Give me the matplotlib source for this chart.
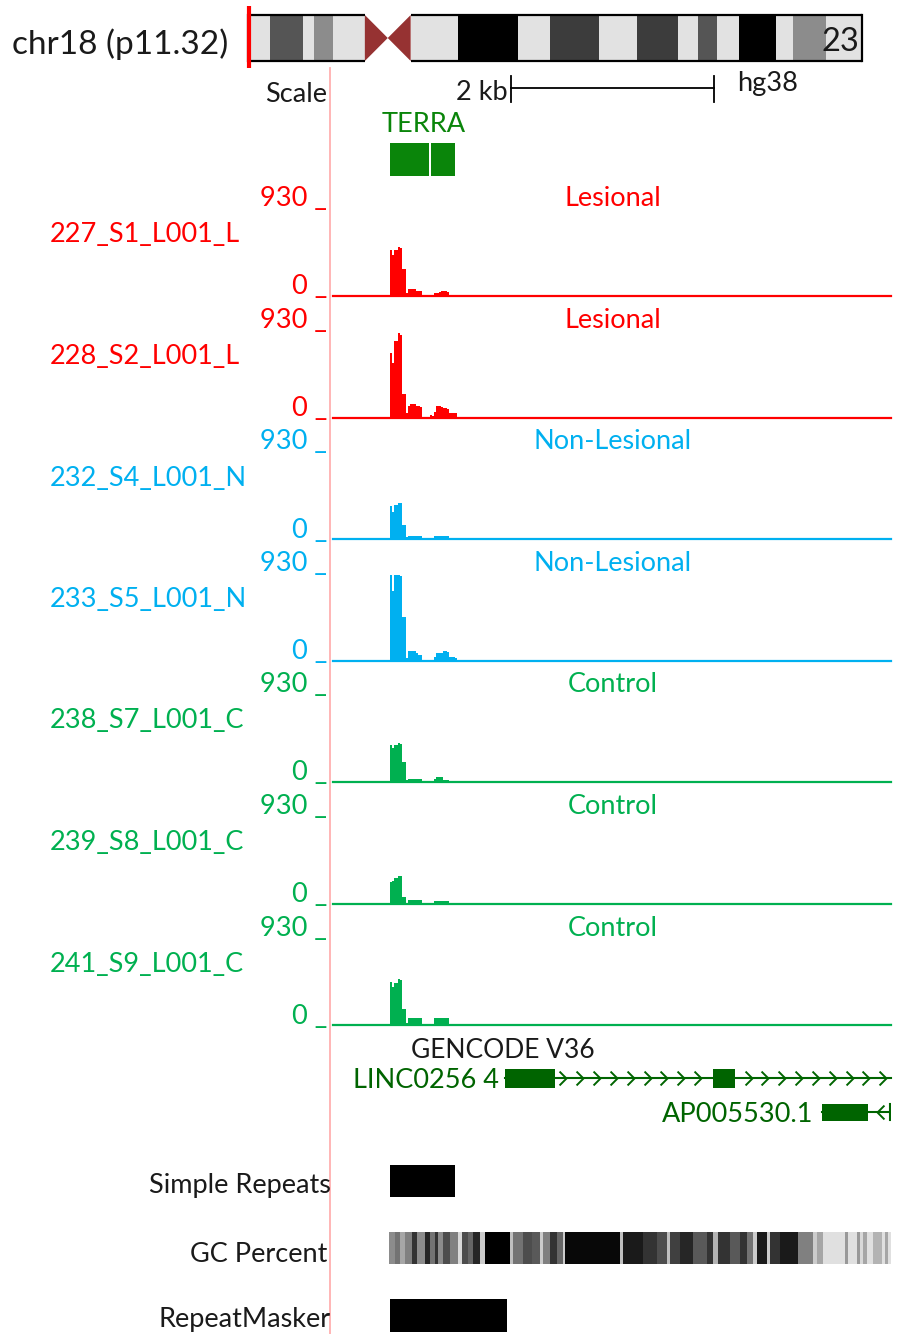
import numpy as np
import matplotlib
matplotlib.use("Agg")
import matplotlib.pyplot as plt
from matplotlib.patches import Rectangle, Polygon

plt.rcParams['font.family'] = ['Lato', 'DejaVu Sans']

W, H = 898, 1334

# ---------------- data ----------------
# ideogram of chr18 (Mb)
band_starts = [0, 2.9, 7.2, 8.6, 11.1, 21.3, 27.5, 35.3, 39.5, 45.9, 51.0, 56.3, 58.9, 61.4, 64.3, 69.2, 71.3, 75.7]
band_ends   = [2.9, 7.2, 8.6, 11.1, 15.3, 27.5, 35.3, 39.5, 45.9, 51.0, 56.3, 58.9, 61.4, 64.3, 69.2, 71.3, 75.7, 80.4]
band_stain  = ['gneg', 'gpos66', 'gneg', 'gpos50', 'gneg', 'gneg', 'gpos100', 'gneg', 'gpos75',
               'gneg', 'gpos75', 'gneg', 'gpos66', 'gneg', 'gpos100', 'gneg', 'gpos50', 'gneg']
centromere = [15.3, 18.3, 21.3]
chrom_len = 80.4
view_pos = 0.1

# window in bp (relative)
win_start, win_end = 0, 5500
bin_start, bin_width = 560, 20

sample_names = ['227_S1_L001_L', '228_S2_L001_L', '232_S4_L001_N', '233_S5_L001_N',
                '238_S7_L001_C', '239_S8_L001_C', '241_S9_L001_C']
groups = ['Lesional', 'Lesional', 'Non-Lesional', 'Non-Lesional', 'Control', 'Control', 'Control']
ymax = 930

s227 = [480, 430, 480, 480, 512, 500, 282, 282, 30, 73, 73, 73, 70, 55, 52, 50, 0, 0, 0, 0, 0, 0,
        30, 31, 40, 52, 52, 50, 45, 0, 0, 0, 0, 0]
s228 = [670, 565, 795, 795, 880, 860, 250, 250, 50, 120, 145, 145, 140, 120, 115, 110, 0, 0, 0, 0,
        30, 20, 60, 115, 115, 110, 95, 95, 90, 50, 50, 50, 45, 0]
s232 = [345, 280, 355, 355, 376, 376, 146, 146, 20, 31, 31, 31, 31, 31, 31, 31, 0, 0, 0, 0, 0, 0,
        31, 31, 31, 31, 31, 31, 31, 0, 0, 0, 0, 0]
s233 = [890, 730, 890, 890, 890, 880, 450, 450, 30, 95, 95, 95, 95, 80, 60, 60, 0, 0, 0, 0, 0, 0,
        40, 75, 75, 80, 95, 95, 90, 35, 35, 35, 30, 0]
s238 = [385, 355, 385, 385, 405, 400, 210, 210, 20, 30, 30, 30, 30, 30, 30, 30, 0, 0, 0, 0, 0, 0,
        30, 52, 52, 52, 25, 25, 25, 0, 0, 0, 0, 0]
s239 = [220, 240, 270, 270, 290, 285, 73, 73, 10, 40, 40, 40, 40, 40, 40, 40, 0, 0, 0, 0, 0, 0,
        25, 25, 25, 25, 25, 25, 25, 0, 0, 0, 0, 0]
s241 = [450, 395, 440, 440, 480, 475, 165, 165, 20, 73, 73, 73, 73, 73, 73, 73, 0, 0, 0, 0, 0, 0,
        73, 73, 73, 73, 73, 73, 73, 0, 0, 0, 0, 0]
signals = [s227, s228, s232, s233, s238, s239, s241]

terra_blocks = [(562, 946), (966, 1203)]
linc_span = (1695, 5500)
linc_exons = [(1695, 2188), (3746, 3963)]
ap_span = (4820, 5490)
ap_exons = [(4820, 5273)]
simple_repeats = [(562, 1203)]
repeatmasker = [(562, 1715)]
scale_bar = (1755, 3755)

gc_starts = [555, 611, 660, 709, 775, 824, 906, 956, 1005, 1038, 1087, 1153, 1235, 1268, 1334, 1383,
             1449, 1498, 1744, 1777, 1876, 1958, 2040, 2073, 2138, 2204, 2270, 2286, 2828, 2861, 3058,
             3190, 3288, 3321, 3420, 3551, 3682, 3748, 3797, 3912, 4011, 4077, 4142, 4175, 4274, 4307,
             4405, 4586, 4734, 4766, 4832, 5046, 5078, 5160, 5193, 5226, 5259, 5325, 5407, 5440, 5473]
gc_gray = [0.55, 0.45, 0.65, 0.5, 0.2, 0.55, 0.15, 0.45, 0.2, 0.55, 0.3, 0.5, 0.85, 0.3, 0.4, 0.15,
           0.8, 0.0, 0.75, 0.45, 0.3, 0.35, 0.8, 0.5, 0.2, 0.4, 0.8, 0.03, 0.75, 0.1, 0.2,
           0.3, 0.75, 0.25, 0.15, 0.35, 0.2, 0.7, 0.2, 0.35, 0.2, 0.45, 0.8, 0.1, 0.8, 0.2,
           0.1, 0.5, 0.8, 0.65, 0.88, 0.6, 0.88, 0.6, 0.85, 0.65, 0.88, 0.7, 0.88, 0.65, 0.88]
gc_end = 5500

# ---------------- style ----------------
RED = '#ff0000'
BLUE = '#00b0f0'
GREEN = '#00b050'
group_colors = {'Lesional': RED, 'Non-Lesional': BLUE, 'Control': GREEN}
TERRA_COL = '#0a850a'
GENE_COL = '#006400'
TXT = '#1a1a1a'
stain_colors = {'gneg': '#e2e2e2', 'gpos50': '#8c8c8c', 'gpos66': '#555555',
                'gpos75': '#3c3c3c', 'gpos100': '#000000'}

fig = plt.figure(figsize=(W / 100, H / 100), dpi=100)
fig.patch.set_facecolor('white')

TDY = 2  # text vertical nudge (px)


def fx(px):
    return px / W


def fy(py):
    return 1 - py / H


def ftext(x, y, s, **kw):
    fig.text(fx(x), fy(y + TDY), s, **kw)


FS = 19.5

# ---------------- ideogram ----------------
axi = fig.add_axes([fx(248), fy(61), fx(862) - fx(248), fy(15) - fy(61)])
axi.set_xlim(0, chrom_len)
axi.set_ylim(0, 1)
axi.axis('off')
for s, e, st in zip(band_starts, band_ends, band_stain):
    axi.add_patch(Rectangle((s, 0), e - s, 1, facecolor=stain_colors[st], edgecolor='none'))
c0, cm, c1 = centromere
axi.add_patch(Polygon([(c0, 0), (c0, 1), (cm, 0.5)], closed=True, facecolor='#963232', edgecolor='none'))
axi.add_patch(Polygon([(c1, 0), (c1, 1), (cm, 0.5)], closed=True, facecolor='#963232', edgecolor='none'))
lw_o = 1.6
for y in (0, 1):
    axi.plot([0, c0], [y, y], color='black', lw=lw_o, clip_on=False, solid_capstyle='butt')
    axi.plot([c1, chrom_len], [y, y], color='black', lw=lw_o, clip_on=False, solid_capstyle='butt')
axi.plot([chrom_len, chrom_len], [0, 1], color='black', lw=lw_o, clip_on=False)
axi.plot([0, 0], [0, 1], color='black', lw=lw_o, clip_on=False)
axi.plot([view_pos, view_pos], [-0.15, 1.2], color='#ff0000', lw=3, clip_on=False,
         solid_capstyle='butt')
axi.text(chrom_len - 0.3, 0.42, '23', ha='right', va='center', fontsize=FS + 4, color=TXT)
ftext(228, 42, 'chr18 (p11.32)', ha='right', va='center', fontsize=FS + 4.5, color=TXT)

# ---------------- overlay genomic axes ----------------
axg = fig.add_axes([fx(333), 0, fx(891) - fx(333), 1])
axg.set_xlim(win_start, win_end)
axg.set_ylim(H, 0)
axg.axis('off')

# pink guide line
fig.add_artist(plt.Line2D([fx(330), fx(330)], [fy(68), 0], color='#ffb0b0', lw=1.3))

# scale bar
axg.plot(list(scale_bar), [88, 88], color='black', lw=1.3)
for xb in scale_bar:
    axg.plot([xb, xb], [76, 102], color='black', lw=1.3)
ftext(327, 92, 'Scale', ha='right', va='center', fontsize=FS, color=TXT)
ftext(508, 90, '2 kb', ha='right', va='center', fontsize=FS, color=TXT)
ftext(737, 82, 'hg38', ha='left', va='center', fontsize=FS, color=TXT)

# TERRA
for s, e in terra_blocks:
    axg.add_patch(Rectangle((s, 143), e - s, 33, facecolor=TERRA_COL, edgecolor='none'))
ftext(424, 122, 'TERRA', ha='center', va='center', fontsize=FS, color=TERRA_COL)

# ---------------- signal tracks ----------------
edges = bin_start + bin_width * np.arange(len(s227))
for k, (name, grp, vals) in enumerate(zip(sample_names, groups, signals)):
    base = 296 + 121.5 * k
    col = group_colors[grp]
    ax = fig.add_axes([fx(333), fy(base), fx(891) - fx(333), fy(base - 89) - fy(base)])
    ax.set_xlim(win_start, win_end)
    ax.set_ylim(0, ymax)
    ax.axis('off')
    ax.bar(edges, vals, width=bin_width, align='edge', color=col, linewidth=0)
    ax.axhline(0, color=col, lw=1.6, clip_on=False)
    ftext(50, base - 63, name, ha='left', va='center', fontsize=FS, color=col)
    ftext(327, base - 99, '930 _', ha='right', va='center', fontsize=FS, color=col)
    ftext(327, base - 11, '0 _', ha='right', va='center', fontsize=FS, color=col)
    ftext(613, base - 99, grp, ha='center', va='center', fontsize=FS, color=col)

# ---------------- genes ----------------
ftext(503, 1048, 'GENCODE V36', ha='center', va='center', fontsize=FS - 0.5, color=TXT)
ly = 1078
axg.plot(list(linc_span), [ly, ly], color=GENE_COL, lw=1.5, clip_on=False)
for s, e in linc_exons:
    axg.add_patch(Rectangle((s, ly - 9.5), e - s, 19, facecolor=GENE_COL, edgecolor='none'))
chev = [(-1, 1), (0, 0), (-1, -1)]
cx = [c for c in np.arange(2300, 5460, 166)
      if not any(s - 20 <= c <= e + 60 for s, e in linc_exons)]
axg.plot(cx, [ly] * len(cx), linestyle='none', marker=chev, markersize=10,
         markerfacecolor='none', markeredgecolor=GENE_COL, markeredgewidth=1.4)
ftext(499, 1079, 'LINC0256 4', ha='right', va='center', fontsize=FS, color=GENE_COL)

ay = 1112
axg.plot(list(ap_span), [ay, ay], color=GENE_COL, lw=1.5)
for s, e in ap_exons:
    axg.add_patch(Rectangle((s, ay - 8.5), e - s, 17, facecolor=GENE_COL, edgecolor='none'))
chev_l = [(1, 1), (0, 0), (1, -1)]
axg.plot([5360], [ay], linestyle='none', marker=chev_l, markersize=10,
         markerfacecolor='none', markeredgecolor=GENE_COL, markeredgewidth=1.4)
axg.plot([ap_span[1], ap_span[1]], [ay - 8, ay + 8], color=GENE_COL, lw=1.5)
ftext(813, 1113, 'AP005530.1', ha='right', va='center', fontsize=FS, color=GENE_COL)

# ---------------- repeats / GC ----------------
for s, e in simple_repeats:
    axg.add_patch(Rectangle((s, 1165), e - s, 32, facecolor='black', edgecolor='none'))
ftext(331, 1183, 'Simple Repeats', ha='right', va='center', fontsize=FS, color=TXT)

gc_ends = gc_starts[1:] + [gc_end]
for s, e, g in zip(gc_starts, gc_ends, gc_gray):
    axg.add_patch(Rectangle((s, 1232), e - s, 32, facecolor=(g, g, g), edgecolor='none'))
ftext(327, 1252, 'GC Percent', ha='right', va='center', fontsize=FS, color=TXT)

for s, e in repeatmasker:
    axg.add_patch(Rectangle((s, 1299), e - s, 33, facecolor='black', edgecolor='none'))
ftext(331, 1318, 'RepeatMasker', ha='right', va='center', fontsize=FS, color=TXT)

fig.savefig('out.png', dpi=100, facecolor='white')
